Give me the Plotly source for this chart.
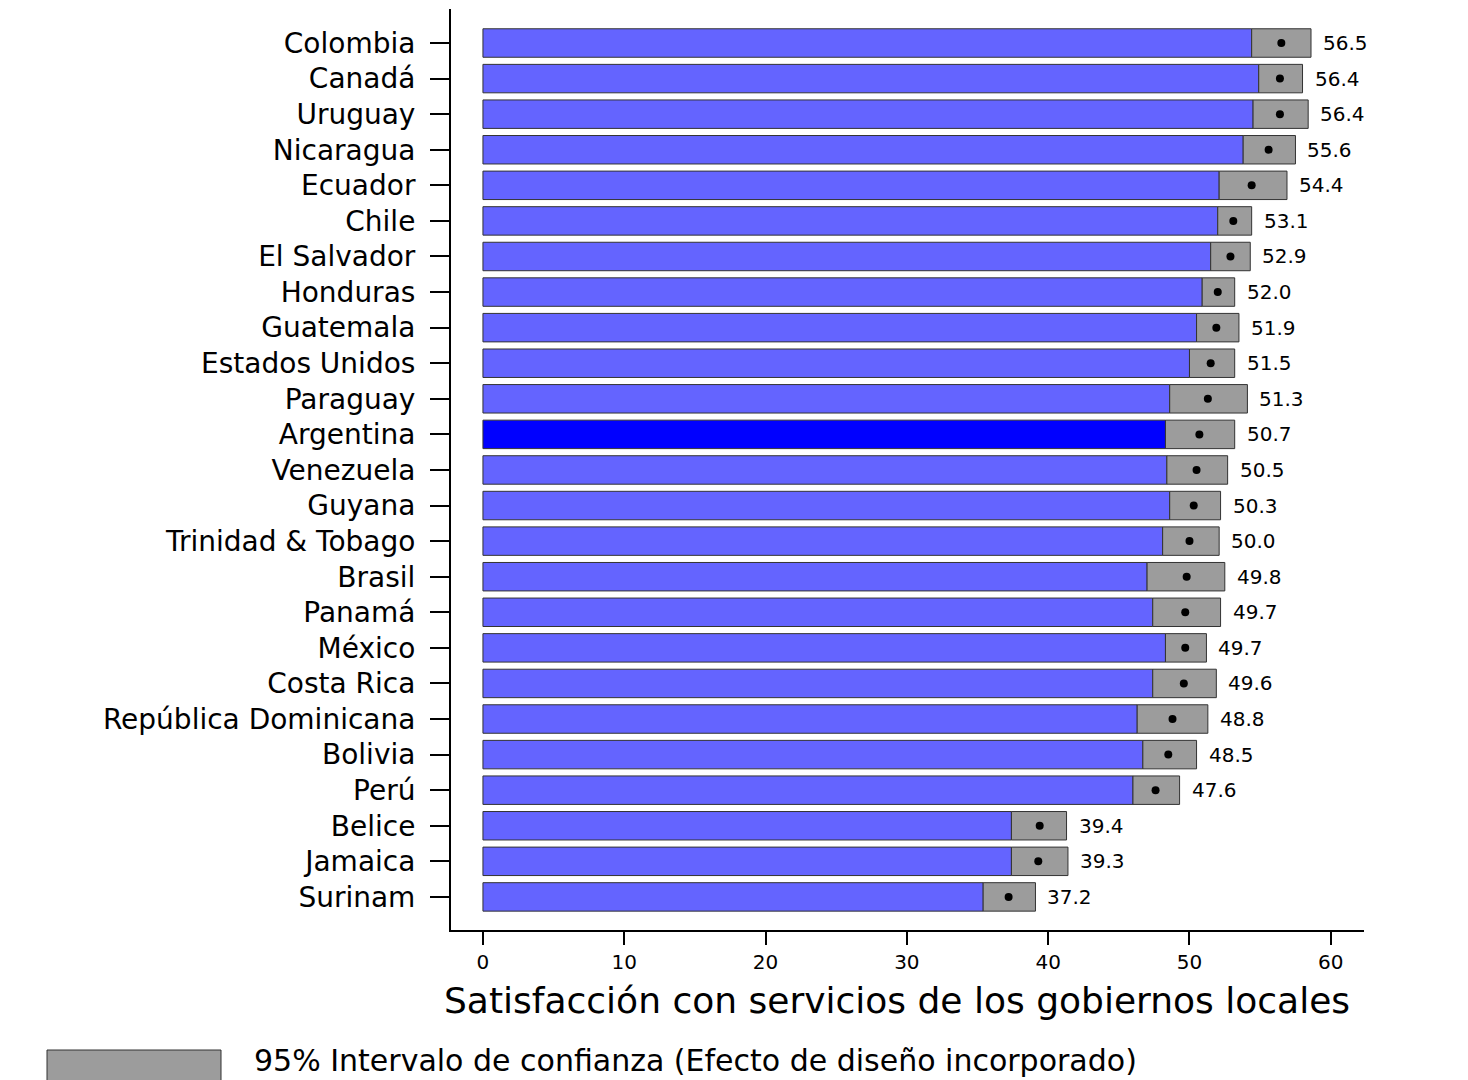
import plotly.graph_objects as go

countries = ["Colombia", "Canadá", "Uruguay", "Nicaragua", "Ecuador", "Chile", "El Salvador",
             "Honduras", "Guatemala", "Estados Unidos", "Paraguay", "Argentina", "Venezuela",
             "Guyana", "Trinidad & Tobago", "Brasil", "Panamá", "México", "Costa Rica",
             "República Dominicana", "Bolivia", "Perú", "Belice", "Jamaica", "Surinam"]
means = [56.5, 56.4, 56.4, 55.6, 54.4, 53.1, 52.9, 52.0, 51.9, 51.5, 51.3, 50.7, 50.5,
         50.3, 50.0, 49.8, 49.7, 49.7, 49.6, 48.8, 48.5, 47.6, 39.4, 39.3, 37.2]
ci_lower = [54.4, 54.9, 54.5, 53.8, 52.1, 52.0, 51.5, 50.9, 50.5, 50.0, 48.6, 48.3, 48.4,
            48.6, 48.1, 47.0, 47.4, 48.3, 47.4, 46.3, 46.7, 46.0, 37.4, 37.4, 35.4]
ci_upper = [58.6, 58.0, 58.4, 57.5, 56.9, 54.4, 54.3, 53.2, 53.5, 53.2, 54.1, 53.2, 52.7,
            52.2, 52.1, 52.5, 52.2, 51.2, 51.9, 51.3, 50.5, 49.3, 41.3, 41.4, 39.1]
highlight = "Argentina"
x_ticks = [0, 10, 20, 30, 40, 50, 60]
x_title = "Satisfacción con servicios de los gobiernos locales"
legend_label = "95% Intervalo de confianza (Efecto de diseño incorporado)"

# page body has an 8px margin, so figure coordinates = page coordinates - 8
OFF = 8
W, H = 1468 - OFF, 1080 - OFF
L, R, T, B = 451 - OFF, 1364 - OFF, 9 - OFF, 930 - OFF
FONT = "DejaVu Sans"

def px_x(p):  # page pixel -> paper x
    return (p - OFF - L) / (R - L)

def px_y(p):  # page pixel -> paper y
    return (B - (p - OFF)) / (B - T)

bar_colors = ["#0000FF" if c == highlight else "#6464FF" for c in countries]
ci_width = [u - l for u, l in zip(ci_upper, ci_lower)]

fig = go.Figure()
fig.add_trace(go.Bar(
    y=countries, x=ci_lower, orientation="h", width=0.8,
    marker=dict(color=bar_colors, line=dict(color="#333333", width=1)),
    showlegend=False, hoverinfo="skip"))
fig.add_trace(go.Bar(
    y=countries, x=ci_width, base=ci_lower, orientation="h", width=0.8,
    marker=dict(color="#9C9C9C", line=dict(color="#333333", width=1)),
    showlegend=False, hoverinfo="skip"))
fig.add_trace(go.Scatter(
    y=countries, x=means, mode="markers",
    marker=dict(color="black", size=8, symbol="circle"),
    showlegend=False, hoverinfo="skip"))

for c, m, u in zip(countries, means, ci_upper):
    fig.add_annotation(x=u, y=c, xref="x", yref="y", text=f"{m:.1f}", showarrow=False,
                       xanchor="left", yanchor="middle", xshift=10,
                       font=dict(family=FONT, size=20, color="black"))

# axis title
fig.add_annotation(x=px_x(897), y=px_y(1000), xref="paper", yref="paper", text=x_title,
                   showarrow=False, xanchor="center", yanchor="middle",
                   font=dict(family=FONT, size=36, color="black"))

# legend swatch + label
fig.add_shape(type="rect", xref="paper", yref="paper",
              x0=px_x(47), x1=px_x(221), y0=px_y(1050), y1=px_y(1090),
              fillcolor="#9C9C9C", line=dict(color="#333333", width=1))
fig.add_annotation(x=px_x(252), y=px_y(1060), xref="paper", yref="paper", text=legend_label,
                   showarrow=False, xanchor="left", yanchor="middle",
                   font=dict(family=FONT, size=30, color="black"))

fig.update_layout(
    width=W, height=H,
    margin=dict(l=L, r=W - R, t=T, b=H - B, pad=0),
    plot_bgcolor="white", paper_bgcolor="white",
    barmode="overlay", bargap=0.2,
    xaxis=dict(range=[-2.26, 62.35], tickvals=x_ticks, ticktext=[str(v) for v in x_ticks],
               showgrid=False, zeroline=False, showline=True, linecolor="black", linewidth=2,
               ticks="outside", ticklen=13, tickwidth=2, tickcolor="black",
               ticklabelstandoff=0,
               tickfont=dict(family=FONT, size=20, color="black")),
    yaxis=dict(type="category", categoryorder="array", categoryarray=countries,
               range=[24.93, -0.956], showgrid=False, zeroline=False,
               showline=True, linecolor="black", linewidth=2,
               ticks="outside", ticklen=19, tickwidth=2, tickcolor="black",
               ticklabelstandoff=9,
               tickfont=dict(family=FONT, size=28, color="black")),
)

fig.write_html("out.html")
